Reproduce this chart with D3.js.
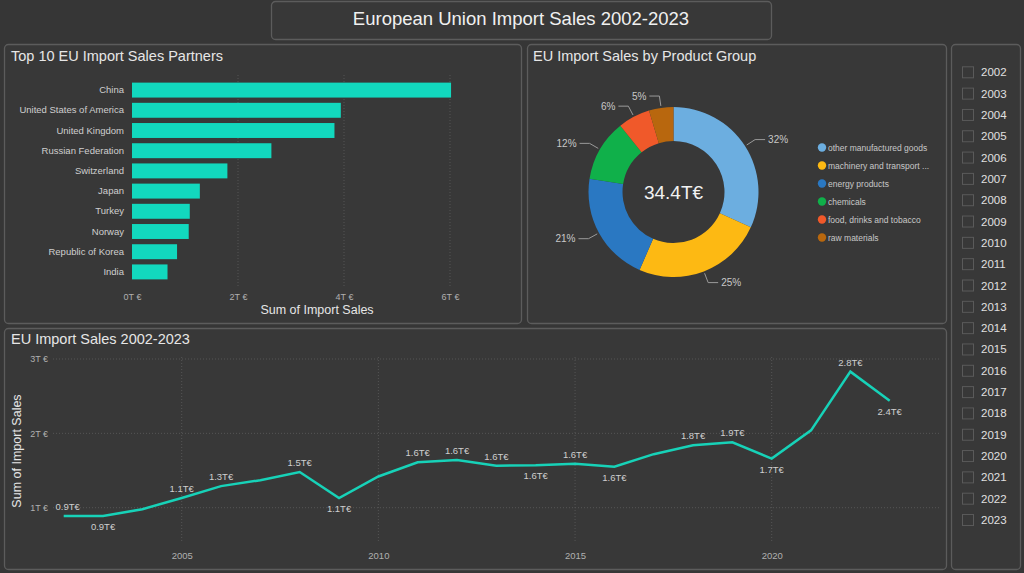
<!DOCTYPE html>
<html><head><meta charset="utf-8">
<script src="https://cdn.jsdelivr.net/npm/d3@7"></script>
<style>
html,body{margin:0;padding:0;background:#363636;}
svg{display:block;font-family:"Liberation Sans",Arial,sans-serif;}
</style></head>
<body>
<svg id="c" width="1024" height="573"></svg>
<script>
// ---- data ----
const partners = ["China","United States of America","United Kingdom","Russian Federation","Switzerland","Japan","Turkey","Norway","Republic of Korea","India"];
const partnerSales = [6.02,3.94,3.82,2.63,1.80,1.28,1.09,1.07,0.85,0.67];
const barTicks = [0,2,4,6];
const barTickLabels = ["0T €","2T €","4T €","6T €"];

const productGroups = ["other manufactured goods","machinery and transport equipment","energy products","chemicals","food, drinks and tobacco","raw materials"];
const productSales = [10.95,8.5,7.2,4.05,2.1,1.6];
const productColors = ["#6caee0","#fdb913","#2a78c2","#10b04a","#f0592a","#b8670e"];

const years = [2002,2003,2004,2005,2006,2007,2008,2009,2010,2011,2012,2013,2014,2015,2016,2017,2018,2019,2020,2021,2022,2023];
const yearSales = [0.89,0.89,0.98,1.13,1.29,1.37,1.48,1.13,1.42,1.61,1.64,1.565,1.57,1.59,1.55,1.72,1.84,1.88,1.66,2.04,2.83,2.44];
// label placement: 1 = above, -1 = below, 0 = none
const yearLabelPos = [1,-1,0,1,1,0,1,-1,0,1,1,1,-1,1,-1,0,1,1,-1,0,1,-1];
const lineYTicks = [1,2,3];
const lineYTickLabels = ["1T €","2T €","3T €"];
const lineXTicks = [2005,2010,2015,2020];

const svg = d3.select("#c");
const PANEL_FILL = "#383838", PANEL_STROKE = "#5c5c5c";
const TEXT = "#e6e6e6";

function panel(x,y,w,h){
  svg.append("rect").attr("x",x+0.5).attr("y",y+0.5).attr("width",w).attr("height",h)
    .attr("rx",4).attr("fill",PANEL_FILL).attr("stroke",PANEL_STROKE).attr("stroke-width",1.3);
}
// title box
panel(271,1,500,38);
svg.append("text").attr("x",521).attr("y",25).attr("text-anchor","middle")
  .attr("fill","#f0f0f0").attr("font-size",18.5).text("European Union Import Sales 2002-2023");

// panels
panel(4,44,517,279);
panel(527,44,419,279);
panel(4,328,942,241);
panel(951,44,69,525);

function ptitle(x,y,t){
  svg.append("text").attr("x",x).attr("y",y).attr("fill",TEXT).attr("font-size",14.5).text(t);
}
ptitle(11,61,"Top 10 EU Import Sales Partners");
ptitle(533,61,"EU Import Sales by Product Group");
ptitle(11,344,"EU Import Sales 2002-2023");

// ---- bar chart ----
{
  const x = d3.scaleLinear().domain([0,6]).range([132,450]);
  const y = d3.scaleBand().domain(partners).range([80,282]).paddingInner(0.26).paddingOuter(0.13);
  const g = svg.append("g");
  g.selectAll("line.grid").data(barTicks.slice(1)).join("line")
    .attr("x1",d=>x(d)).attr("x2",d=>x(d)).attr("y1",75).attr("y2",287)
    .attr("stroke","#555").attr("stroke-dasharray","1,2");
  g.selectAll("rect.bar").data(partners).join("rect")
    .attr("x",x(0)).attr("y",d=>y(d)).attr("height",y.bandwidth())
    .attr("width",(d,i)=>x(partnerSales[i])-x(0))
    .attr("fill","#12d8be");
  const ax = d3.axisBottom(x).tickValues(barTicks).tickFormat((d,i)=>barTickLabels[i]).tickSize(0);
  const axg = svg.append("g").attr("transform","translate(0,291)").call(ax);
  axg.select(".domain").remove();
  axg.selectAll("text").attr("fill","#b0b0b0").attr("font-size",9);
  const ay = d3.axisLeft(y).tickSize(0).tickPadding(8);
  const ayg = svg.append("g").attr("transform",`translate(${x(0)},0)`).call(ay);
  ayg.select(".domain").remove();
  ayg.selectAll("text").attr("fill","#cfcfcf").attr("font-size",9.5);
  svg.append("text").attr("x",317).attr("y",314).attr("text-anchor","middle")
    .attr("fill",TEXT).attr("font-size",12.5).text("Sum of Import Sales");
}

// ---- donut ----
{
  const cx=673.5, cy=192, ro=85, ri=51;
  const total = d3.sum(productSales);
  const pie = d3.pie().sort(null).value(d=>d.v);
  const data = pie(productGroups.map((n,i)=>({n,v:productSales[i],c:productColors[i]})));
  const arc = d3.arc().innerRadius(ri).outerRadius(ro);
  const g = svg.append("g").attr("transform",`translate(${cx},${cy})`);
  g.selectAll("path").data(data).join("path").attr("d",arc).attr("fill",d=>d.data.c);
  g.append("text").attr("y",7).attr("text-anchor","middle").attr("fill","#f2f2f2")
    .attr("font-size",19).text(d3.format(".1f")(total)+"T€");
  // labels
  data.forEach(d=>{
    const a = (d.startAngle+d.endAngle)/2;
    const sx=Math.sin(a), sy=-Math.cos(a);
    const p1=[sx*(ro+2), sy*(ro+2)];
    const p2=[sx*(ro+12), sy*(ro+12)];
    const right = sx>=0;
    const p3=[p2[0]+(right?10:-10), p2[1]];
    g.append("polyline").attr("points",[p1,p2,p3].map(p=>p.join(",")).join(" "))
      .attr("fill","none").attr("stroke","#9a9a9a").attr("stroke-width",1);
    g.append("text").attr("x",p3[0]+(right?3:-3)).attr("y",p3[1]+3.5)
      .attr("text-anchor",right?"start":"end").attr("fill","#c8c8c8").attr("font-size",10)
      .text(Math.round(d.data.v/total*100)+"%");
  });
  // legend
  const lg = svg.append("g");
  productGroups.forEach((n,i)=>{
    const yy = 147.5+i*18;
    lg.append("circle").attr("cx",822).attr("cy",yy).attr("r",4.2).attr("fill",productColors[i]);
    const t = lg.append("text").attr("x",828).attr("y",yy+3).attr("fill","#c8c8c8").attr("font-size",8.5).text(n);
    const maxW = 106;
    if(t.node().getComputedTextLength()>maxW){
      let s=n;
      while(s.length>1){ s=s.slice(0,-1); t.text(s.trimEnd()+" ..."); if(t.node().getComputedTextLength()<=maxW) break; }
    }
  });
}

// ---- line chart ----
{
  const x = d3.scaleLinear().domain([2002,2023]).range([63.7,889.7]);
  const y = d3.scaleLinear().domain([1,3]).range([507.7,359]);
  const g = svg.append("g");
  g.selectAll("line.hg").data(lineYTicks).join("line")
    .attr("x1",53).attr("x2",940).attr("y1",d=>y(d)).attr("y2",d=>y(d))
    .attr("stroke","#555").attr("stroke-dasharray","1,2");
  g.selectAll("line.vg").data(lineXTicks).join("line")
    .attr("x1",d=>x(d)).attr("x2",d=>x(d)).attr("y1",357).attr("y2",542)
    .attr("stroke","#555").attr("stroke-dasharray","1,2");
  const ay = d3.axisLeft(y).tickValues(lineYTicks).tickFormat((d,i)=>lineYTickLabels[i]).tickSize(0).tickPadding(0);
  const ayg = svg.append("g").attr("transform","translate(48,0)").call(ay);
  ayg.select(".domain").remove();
  ayg.selectAll("text").attr("fill","#b0b0b0").attr("font-size",9);
  const ax = d3.axisBottom(x).tickValues(lineXTicks).tickFormat(d3.format("d")).tickSize(0);
  const axg = svg.append("g").attr("transform","translate(0,549)").call(ax);
  axg.select(".domain").remove();
  axg.selectAll("text").attr("fill","#b0b0b0").attr("font-size",9.5);
  svg.append("text").attr("transform","translate(21,451) rotate(-90)").attr("text-anchor","middle")
    .attr("fill",TEXT).attr("font-size",12.5).text("Sum of Import Sales");
  const line = d3.line().x((d,i)=>x(years[i])).y(d=>y(d));
  g.append("path").datum(yearSales).attr("d",line).attr("fill","none")
    .attr("stroke","#17d2b8").attr("stroke-width",2.5).attr("stroke-linejoin","miter");
  years.forEach((yr,i)=>{
    const pos = yearLabelPos[i];
    if(!pos) return;
    g.append("text").attr("x",x(yr)+(i===0?4:0)).attr("y",y(yearSales[i])+(pos>0?-6:14))
      .attr("text-anchor","middle").attr("fill","#cfcfcf").attr("font-size",9.5)
      .text(d3.format(".1f")(yearSales[i])+"T€");
  });
}

// ---- slicer ----
{
  const g = svg.append("g");
  years.forEach((yr,i)=>{
    const yy = 72.3 + i*21.32;
    g.append("rect").attr("x",962.5).attr("y",yy-5.5).attr("width",11).attr("height",11)
      .attr("fill","#383838").attr("stroke","#5a5a5a").attr("stroke-width",1);
    g.append("text").attr("x",981).attr("y",yy+4).attr("fill","#e0e0e0").attr("font-size",11.5)
      .text(yr);
  });
}
</script>
</body></html>
